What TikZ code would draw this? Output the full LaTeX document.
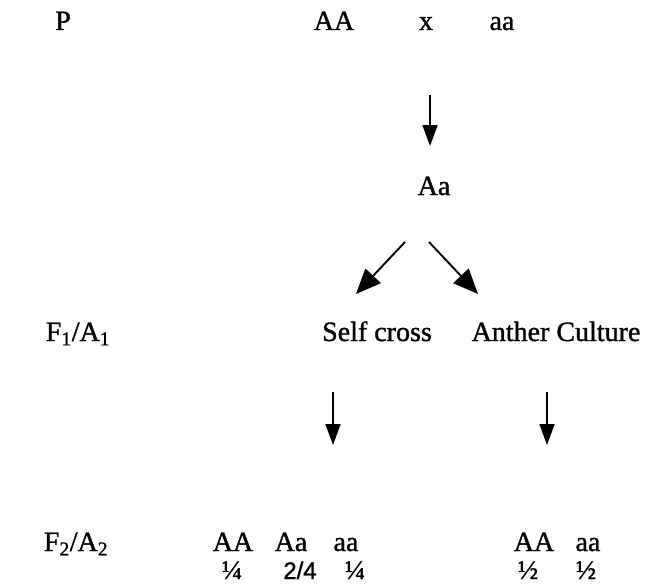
\documentclass[tikz,border=0pt]{standalone}
\usepackage{fontspec}
\setmainfont[FakeBold=1.2]{Liberation Serif}
\newfontfamily\arialfont[FakeBold=1.2]{Liberation Sans}
\usetikzlibrary{arrows.meta}
\tikzset{
  lbl/.style={inner sep=0pt, anchor=base, font=\fontsize{28}{32}\selectfont},
  frac/.style={inner sep=0pt, anchor=base, font=\fontsize{27}{31}\selectfont},
  arr/.style={line width=1.8pt, -{Triangle[length=21pt,width=15pt]}},
  darr/.style={line width=1.9pt, -{Triangle[length=25pt,width=21pt]}}
}
\begin{document}
\begin{tikzpicture}[x=1pt,y=-1pt]
\useasboundingbox (0,0) rectangle (663,586);
% row P
\node[lbl] (P) at (63,30) {P};
\node[lbl] (AA0) at (334,30) {AA};
\node[lbl] (x) at (426,30) {x};
\node[lbl] (aa0) at (502,30) {aa};
\coordinate (a1s) at (430,95);
\coordinate (a1e) at (430,146);
\draw[arr] (a1s) -- (a1e);
% F1
\node[lbl] (Aa1) at (434,195) {Aa};
\coordinate (dl1) at (405,242);
\coordinate (dl2) at (356,294);
\coordinate (dr1) at (429,242);
\coordinate (dr2) at (478,294);
\draw[darr] (dl1) -- (dl2);
\draw[darr] (dr1) -- (dr2);
\node[lbl] (F1) at (78,341) {F\textsubscript{1}/A\textsubscript{1}};
\node[lbl] (self) at (377,341) {Self cross};
\node[lbl] (anther) at (556,341) {Anther Culture};
\coordinate (s1) at (333,392);
\coordinate (s2) at (333,445);
\coordinate (c1) at (547,392);
\coordinate (c2) at (547,445);
\draw[arr] (s1) -- (s2);
\draw[arr] (c1) -- (c2);
% F2
\node[lbl] (F2) at (76,551) {F\textsubscript{2}/A\textsubscript{2}};
\node[lbl] (g1) at (233,551) {AA};
\node[lbl] (g2) at (291,551) {Aa};
\node[lbl] (g3) at (346,551) {aa};
\node[lbl] (g4) at (534,551) {AA};
\node[lbl] (g5) at (588,551) {aa};
\node[frac] (f1) at (232,579) {¼};
\node[frac,font=\arialfont\fontsize{24}{28}\selectfont] (f2) at (300,579) {2/4};
\node[frac] (f3) at (355,579) {¼};
\node[frac] (f4) at (528,579) {½};
\node[frac] (f5) at (586,579) {½};
\end{tikzpicture}
\end{document}
